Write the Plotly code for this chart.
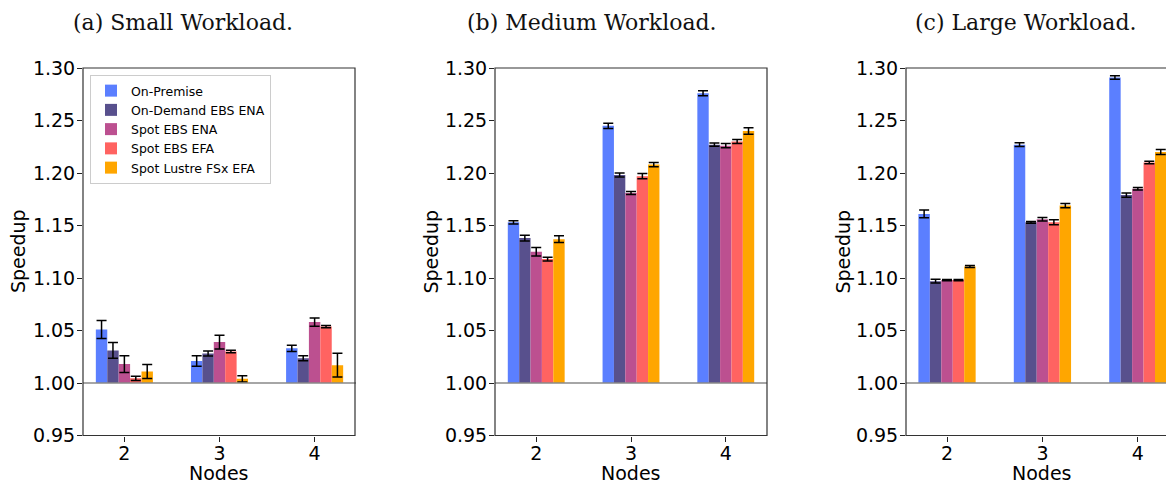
import numpy as np
import plotly.graph_objects as go

W, H = 1174, 483
OFF = 8  # page body margin offset

nodes = [2, 3, 4]
series = ["On-Premise", "On-Demand EBS ENA", "Spot EBS ENA", "Spot EBS EFA", "Spot Lustre FSx EFA"]
colors = ["#5b7fff", "#58508d", "#bc5090", "#ff6361", "#ffa600"]

# speedup values, one list per series (nodes 2, 3, 4)
small_speedup = [
    [1.051, 1.021, 1.033],
    [1.031, 1.028, 1.0235],
    [1.018, 1.039, 1.058],
    [1.0045, 1.030, 1.0537],
    [1.011, 1.004, 1.017],
]
small_err = [
    [0.0085, 0.005, 0.003],
    [0.0075, 0.0024, 0.0024],
    [0.008, 0.0065, 0.004],
    [0.002, 0.0013, 0.001],
    [0.0067, 0.003, 0.0114],
]
medium_speedup = [
    [1.153, 1.245, 1.276],
    [1.138, 1.198, 1.227],
    [1.125, 1.181, 1.226],
    [1.118, 1.197, 1.230],
    [1.137, 1.208, 1.240],
]
medium_err = [
    [0.0016, 0.0025, 0.0024],
    [0.0027, 0.0019, 0.0016],
    [0.004, 0.0014, 0.002],
    [0.0017, 0.0025, 0.002],
    [0.0033, 0.002, 0.003],
]
large_speedup = [
    [1.161, 1.227, 1.291],
    [1.097, 1.153, 1.179],
    [1.098, 1.156, 1.185],
    [1.098, 1.153, 1.210],
    [1.111, 1.169, 1.220],
]
large_err = [
    [0.0037, 0.0017, 0.0017],
    [0.0017, 0.0008, 0.002],
    [0.0005, 0.0016, 0.0013],
    [0.0005, 0.0024, 0.0013],
    [0.001, 0.002, 0.0024],
]
titles = ["(a) Small Workload.", "(b) Medium Workload.", "(c) Large Workload."]
y_ticks = [0.95, 1.00, 1.05, 1.10, 1.15, 1.20, 1.25, 1.30]

panels = [
    (small_speedup, small_err),
    (medium_speedup, medium_err),
    (large_speedup, large_err),
]


def px(x):
    return (x - OFF) / W


def py(y):
    return 1 - (y - OFF) / H


# pixel geometry (screen pixels)
x_px = [(83, 356), (495, 767), (906, 1174)]
x_ranges = [[1.565, 4.435], [1.565, 4.435], [1.57, 4.379]]
y_top, y_bot = 68, 435.5
title_x = [183, 591.5, 1025.5]
ylab_x = [17.5, 430, 842]

fig = go.Figure()
layout = dict(
    width=W, height=H, autosize=False,
    margin=dict(l=0, r=0, t=0, b=0, pad=0, autoexpand=False),
    paper_bgcolor="white", plot_bgcolor="white",
    barmode="group", bargap=0.4, bargroupgap=0.0,
    font=dict(family="DejaVu Sans", size=19, color="black"),
    showlegend=True,
    legend=dict(
        x=px(90), y=py(75), xanchor="left", yanchor="top",
        bgcolor="white", bordercolor="#cccccc", borderwidth=1,
        font=dict(family="DejaVu Sans", size=12.5, color="black"),
        tracegroupgap=0, itemwidth=30,
    ),
)
annotations = []
shapes = []

for p, (vals, errs) in enumerate(panels):
    xa = "x" if p == 0 else f"x{p+1}"
    ya = "y" if p == 0 else f"y{p+1}"
    for s in range(len(series)):
        v = np.array(vals[s])
        fig.add_trace(go.Bar(
            x=nodes, y=v - 1.0, base=1.0,
            name=series[s], marker=dict(color=colors[s], line=dict(width=0)),
            error_y=dict(type="data", array=errs[s], visible=True,
                         color="black", thickness=1.5, width=5),
            xaxis=xa, yaxis=ya, showlegend=(p == 0),
            legendgroup=series[s],
        ))
    x0, x1 = x_px[p]
    dom = [px(x0), px(x1)]
    ydom = [py(y_bot), py(y_top)]
    key = "xaxis" if p == 0 else f"xaxis{p+1}"
    ykey = "yaxis" if p == 0 else f"yaxis{p+1}"
    layout[key] = dict(
        domain=dom, anchor=ya, range=x_ranges[p], automargin=False,
        tickmode="array", tickvals=nodes, ticktext=[str(n) for n in nodes],
        ticks="outside", ticklen=5, tickwidth=1, tickcolor="#222",
        ticklabelstandoff=-4,
        showgrid=False, zeroline=False, showline=False,
        tickfont=dict(size=19, family="DejaVu Sans"),
    )
    layout[ykey] = dict(
        domain=ydom, anchor=xa, range=[0.95, 1.30], automargin=False,
        tickmode="array", tickvals=y_ticks, ticktext=[f"{t:.2f}" for t in y_ticks],
        ticks="outside", ticklen=5, tickwidth=1, tickcolor="#222",
        ticklabelstandoff=-2,
        showgrid=False, zeroline=False, showline=False,
        tickfont=dict(size=19, family="DejaVu Sans"),
    )
    # 1.00 reference line
    shapes.append(dict(type="line", xref=f"{xa} domain", yref=ya,
                       x0=0, x1=1, y0=1.0, y1=1.0,
                       line=dict(color="#888888", width=1.5), layer="above"))
    # frame (extends past the page for the last panel)
    frac = 272 / (x1 - x0)
    shapes.append(dict(type="rect", xref=f"{xa} domain", yref=f"{ya} domain",
                       x0=0, x1=frac, y0=0, y1=1,
                       line=dict(color="#333333", width=1.2), layer="above"))
    annotations.append(dict(text=titles[p], xref="paper", yref="paper",
                            x=px(title_x[p]), y=py(22), xanchor="center", yanchor="middle",
                            showarrow=False, font=dict(family="DejaVu Serif", size=22, color="#111")))
    annotations.append(dict(text="Speedup", xref="paper", yref="paper",
                            x=px(ylab_x[p]), y=py(251.5), xanchor="center", yanchor="middle",
                            textangle=-90, showarrow=False,
                            font=dict(family="DejaVu Sans", size=19, color="black")))
    annotations.append(dict(text="Nodes", xref="paper", yref="paper",
                            x=px((x0 + x0 + 272) / 2), y=py(473),
                            xanchor="center", yanchor="middle", showarrow=False,
                            font=dict(family="DejaVu Sans", size=19, color="black")))

layout["annotations"] = annotations
layout["shapes"] = shapes
fig.update_layout(**layout)
fig.write_html("out.html")
